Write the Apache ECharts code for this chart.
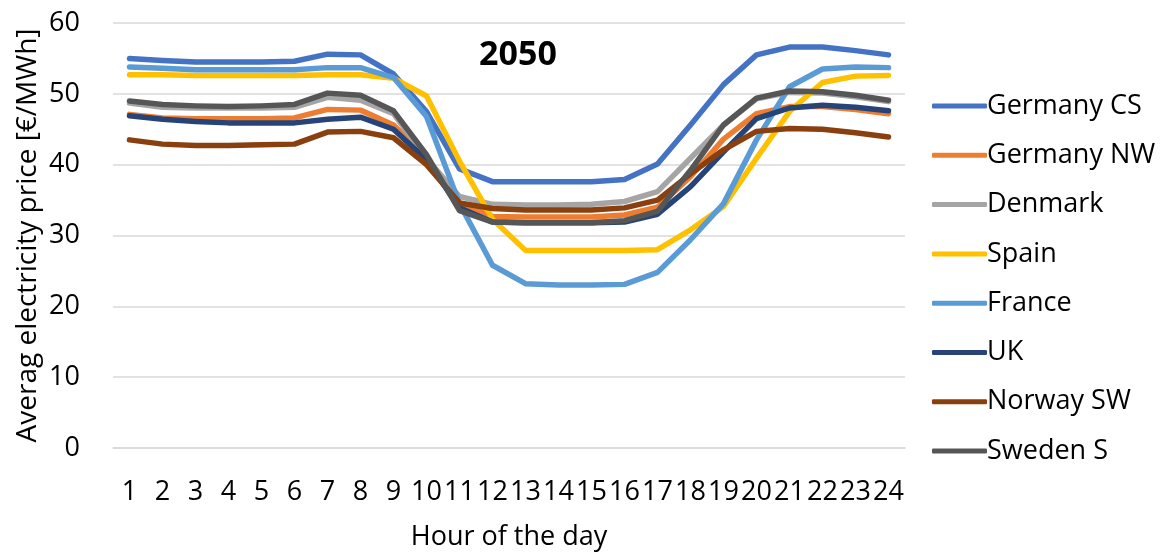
<!DOCTYPE html>
<html>
<head>
<meta charset="utf-8">
<title>2050 hourly electricity price</title>
<script src="https://cdn.jsdelivr.net/npm/echarts@6/dist/echarts.min.js"></script>
<style>
  html, body { margin: 0; padding: 0; background: #fff; }
  #chart { width: 1173px; height: 552px; }
</style>
</head>
<body>
<div id="chart"></div>
<script>
// Hours of the day (x categories)
const hours = ['1','2','3','4','5','6','7','8','9','10','11','12','13','14','15','16','17','18','19','20','21','22','23','24'];

// Average electricity price per hour, €/MWh
const germanyCS = [55.0, 54.7, 54.5, 54.5, 54.5, 54.6, 55.6, 55.5, 52.8, 47.5, 39.4, 37.6, 37.6, 37.6, 37.6, 37.9, 40.1, 45.6, 51.3, 55.5, 56.6, 56.6, 56.1, 55.5];
const germanyNW = [47.1, 46.6, 46.5, 46.5, 46.5, 46.6, 47.8, 47.7, 45.6, 40.9, 34.5, 32.7, 32.6, 32.6, 32.6, 32.9, 34.0, 38.3, 43.6, 47.2, 48.2, 48.2, 47.8, 47.2];
const denmark   = [48.7, 48.1, 48.0, 48.0, 48.0, 48.1, 49.5, 49.1, 47.2, 40.9, 35.5, 34.4, 34.3, 34.3, 34.4, 34.8, 36.2, 40.9, 45.6, 49.3, 50.2, 50.1, 49.6, 48.9];
const spain     = [52.7, 52.7, 52.6, 52.6, 52.6, 52.6, 52.7, 52.7, 52.2, 49.7, 40.5, 32.3, 27.9, 27.9, 27.9, 27.9, 28.0, 30.8, 34.1, 40.9, 47.5, 51.6, 52.5, 52.6];
const france    = [53.8, 53.6, 53.4, 53.4, 53.4, 53.4, 53.7, 53.7, 52.3, 46.8, 34.5, 25.8, 23.2, 23.0, 23.0, 23.1, 24.8, 29.4, 34.5, 43.5, 51.0, 53.5, 53.8, 53.7];
const uk        = [46.9, 46.4, 46.1, 45.9, 45.9, 45.9, 46.4, 46.7, 45.0, 40.7, 33.9, 31.9, 31.8, 31.8, 31.8, 31.9, 33.0, 36.9, 41.8, 46.5, 48.0, 48.4, 48.1, 47.6];
const norwaySW  = [43.5, 42.9, 42.7, 42.7, 42.8, 42.9, 44.6, 44.7, 43.8, 40.0, 34.6, 33.8, 33.6, 33.6, 33.6, 33.9, 35.0, 38.7, 42.1, 44.7, 45.1, 45.0, 44.5, 43.9];
const swedenS   = [49.0, 48.5, 48.3, 48.2, 48.3, 48.5, 50.1, 49.8, 47.6, 41.4, 33.5, 31.9, 31.8, 31.8, 31.8, 32.1, 33.4, 39.2, 45.6, 49.4, 50.4, 50.3, 49.8, 49.1];

// Y axis ticks
const yTicks = [0, 10, 20, 30, 40, 50, 60];

const seriesDefs = [
  { name: 'Germany CS', data: germanyCS, color: '#4472C4' },
  { name: 'Germany NW', data: germanyNW, color: '#ED7D31' },
  { name: 'Denmark',    data: denmark,   color: '#A5A5A5' },
  { name: 'Spain',      data: spain,     color: '#FFC000' },
  { name: 'France',     data: france,    color: '#5B9BD5' },
  { name: 'UK',         data: uk,        color: '#264478' },
  { name: 'Norway SW',  data: norwaySW,  color: '#8A3F0E' },
  { name: 'Sweden S',   data: swedenS,   color: '#565656' }
];

const FONT = '"Open Sans", "Noto Sans", sans-serif';
const chart = echarts.init(document.getElementById('chart'), null, { renderer: 'canvas' });

chart.setOption({
  animation: false,
  backgroundColor: '#ffffff',
  textStyle: { fontFamily: FONT, color: '#000' },
  title: {
    text: '2050',
    left: 513,
    top: 33,
    textAlign: 'center',
    textStyle: { fontFamily: FONT, fontSize: 34, fontWeight: 'bold', color: '#000' }
  },
  grid: { left: 113, right: 268, top: 23, bottom: 104, containLabel: false, outerBoundsMode: 'none' },
  legend: {
    orient: 'vertical',
    left: 927,
    top: 86,
    itemWidth: 55,
    itemHeight: 5,
    itemGap: 19.3,
    icon: 'roundRect',
    textStyle: { fontFamily: FONT, fontSize: 27, color: '#000', lineHeight: 30, padding: [0, 0, 0, -5] },
    data: seriesDefs.map(s => s.name)
  },
  xAxis: {
    type: 'category',
    data: hours,
    boundaryGap: true,
    name: 'Hour of the day',
    nameLocation: 'middle',
    nameGap: 76,
    nameMoveOverlap: false,
    nameTextStyle: { fontFamily: FONT, fontSize: 27, color: '#000' },
    axisLine: { show: true, lineStyle: { color: '#d9d9d9', width: 1.5 } },
    axisTick: { show: false },
    axisLabel: { interval: 0, margin: 31, fontFamily: FONT, fontSize: 27, color: '#000' },
    splitLine: { show: false }
  },
  yAxis: {
    type: 'value',
    min: yTicks[0],
    max: yTicks[yTicks.length - 1],
    interval: yTicks[1] - yTicks[0],
    name: 'Averag electricity price [€/MWh]',
    nameLocation: 'middle',
    nameGap: 71,
    nameMoveOverlap: false,
    nameTextStyle: { fontFamily: FONT, fontSize: 28, color: '#000' },
    axisLine: { show: false },
    axisTick: { show: false },
    axisLabel: { margin: 33, fontFamily: FONT, fontSize: 27, color: '#000' },
    splitLine: { show: true, lineStyle: { color: '#d9d9d9', width: 1.5 } }
  },
  series: seriesDefs.map(s => ({
    name: s.name,
    type: 'line',
    data: s.data,
    showSymbol: false,
    symbol: 'none',
    color: s.color,
    lineStyle: { color: s.color, width: 5.5, cap: 'round', join: 'round' },
    itemStyle: { color: s.color },
    emphasis: { disabled: true }
  }))
});
</script>
</body>
</html>
